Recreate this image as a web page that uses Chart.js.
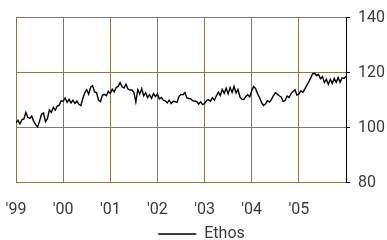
<!DOCTYPE html>
<html>
<head>
<meta charset="utf-8">
<script src="https://cdn.jsdelivr.net/npm/chart.js@4.4.1/dist/chart.umd.min.js"></script>
<style>
html, body { margin: 0; padding: 0; background: #fff; }
#wrap { width: 387px; height: 240px; }
</style>
</head>
<body>
<div id="wrap"><canvas id="cvg" width="387" height="240"></canvas></div>
<script>
// two readings a month, Jan 1999 .. Jan 2006
var startYear = 1999;
var perYear = 24;
var yearTicks = [1999, 2000, 2001, 2002, 2003, 2004, 2005, 2006];
var yTicks = [80, 100, 120, 140];
var seriesName = 'Ethos';
var ethos = [
	101.8,102.7,101.4,102.9,103.2,105.6,103.8,103.4,104.2,102.4,101.1,100.3,
	102.4,104.9,105.4,102.2,103.3,106.5,105.6,107.4,106.4,107.9,108.2,109.8,
	109.6,110.8,109.2,110.3,109.0,110.0,108.8,109.7,108.5,108.0,110.6,112.7,
	113.8,112.2,114.7,115.3,113.0,112.8,110.0,109.5,111.8,112.1,111.6,113.2,
	112.4,114.0,113.0,114.6,115.0,116.4,114.9,114.4,115.8,114.1,113.7,113.7,
	112.9,109.3,113.8,112.2,114.2,111.6,112.7,111.0,112.0,110.7,112.4,111.3,
	112.2,110.5,111.0,110.0,109.8,109.0,110.0,108.8,109.6,109.5,109.2,111.4,
	112.1,112.0,112.8,110.8,110.6,110.5,109.8,109.7,109.5,108.6,109.4,108.4,
	108.8,109.9,110.2,109.6,110.9,110.0,111.6,112.9,111.7,113.9,112.5,114.3,
	112.3,114.6,112.8,115.0,112.6,113.9,111.2,110.4,110.3,111.4,112.0,111.2,
	113.4,115.0,114.2,112.3,111.0,109.2,108.1,108.6,109.8,109.3,110.2,111.6,
	112.7,112.2,111.6,111.2,109.6,109.9,111.5,111.0,112.4,113.2,113.8,111.9,
	112.2,113.4,112.8,114.0,115.4,116.6,118.0,119.6,119.8,118.9,119.4,117.8,
	118.6,116.4,117.6,115.8,117.6,116.1,117.9,116.5,118.2,116.5,118.1,117.9,
	118.7
];

var points = [];
for (var i = 0; i < ethos.length; i++) {
	points.push({ x: startYear + i / perYear, y: ethos[i] });
}

var grid = '#8c7456';
var txt = '#3a3a3a';
Chart.defaults.font.family = 'Roboto, "Liberation Sans", sans-serif';
Chart.defaults.font.size = 16;
Chart.defaults.color = txt;

var ctx = document.getElementById('cvg').getContext('2d');
var myLine = new Chart(ctx, {
	type: 'line',
	data: {
		datasets: [{
			label: seriesName,
			data: points,
			borderColor: '#000',
			backgroundColor: '#000',
			borderWidth: 1.4,
			pointRadius: 0,
			tension: 0
		}]
	},
	options: {
		responsive: false,
		animation: false,
		layout: { padding: { top: 17, right: 0, left: 16, bottom: 0 } },
		plugins: {
			tooltip: { enabled: false },
			legend: {
				position: 'bottom',
				maxHeight: 20,
				labels: {
					usePointStyle: true,
					pointStyle: 'line',
					pointStyleWidth: 38,
					boxHeight: 16,
					padding: 6,
					color: txt
				}
			}
		},
		scales: {
			x: {
				type: 'linear',
				min: yearTicks[0],
				max: yearTicks[yearTicks.length - 1],
				afterBuildTicks: function(ax) {
					ax.ticks = yearTicks.map(function(v) { return { value: v }; });
				},
				// invisible tick marks just push the labels down
				grid: { color: grid, lineWidth: 1, drawTicks: true, tickLength: 18, tickColor: 'rgba(0,0,0,0)' },
				border: { color: grid },
				ticks: {
					padding: 0,
					maxRotation: 0,
					callback: function(v) {
						return v < 2006 ? "'" + String(v).slice(2) : '';
					}
				}
			},
			y: {
				position: 'right',
				min: yTicks[0],
				max: yTicks[yTicks.length - 1],
				afterBuildTicks: function(ax) {
					ax.ticks = yTicks.map(function(v) { return { value: v }; });
				},
				afterFit: function(ax) { ax.width = 41; },
				grid: { color: grid, lineWidth: 1, tickColor: '#000', tickLength: 4 },
				border: { color: '#000' },
				ticks: { padding: 8 }
			}
		}
	}
});
</script>
</body>
</html>
